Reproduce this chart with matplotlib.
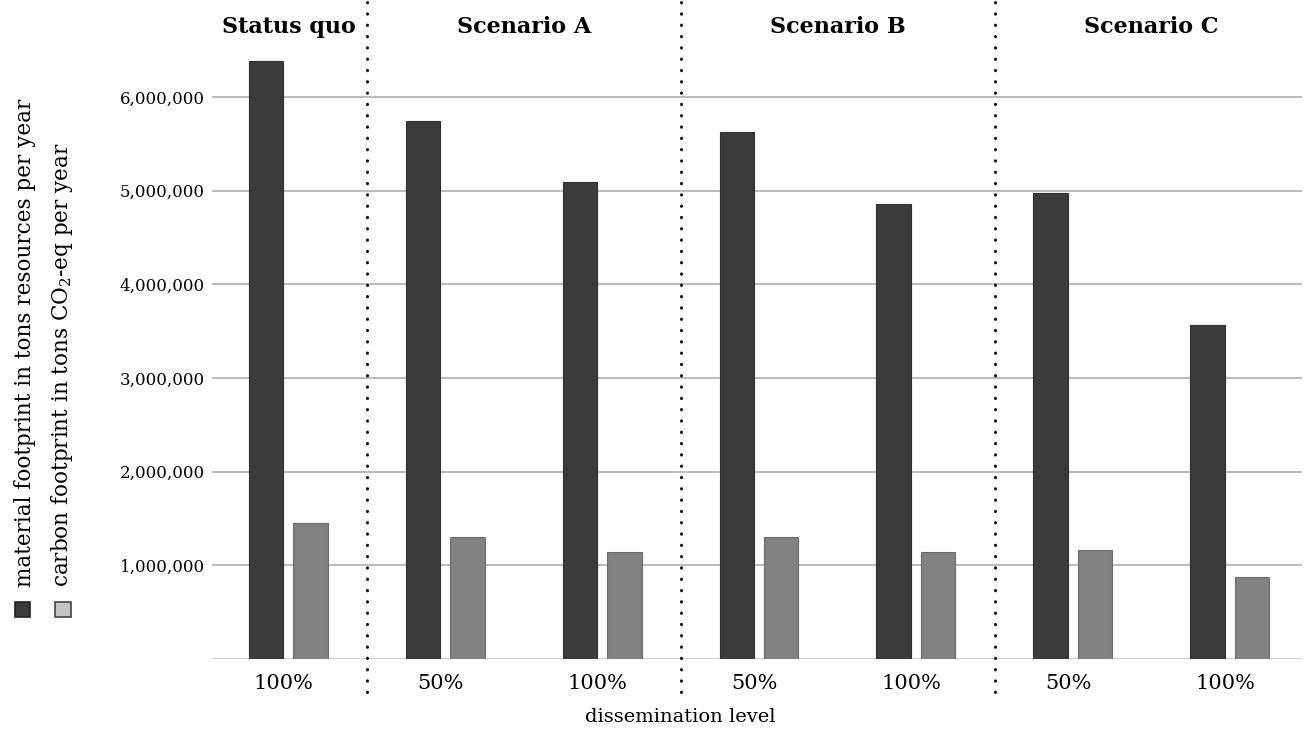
import matplotlib
matplotlib.use("Agg")
import matplotlib.pyplot as plt
import matplotlib.transforms as mtransforms
from matplotlib.patches import Rectangle
from matplotlib.ticker import FuncFormatter
import numpy as np

# ---- data ----
levels = ["100%", "50%", "100%", "50%", "100%", "50%", "100%"]
material = [6380000, 5740000, 5090000, 5630000, 4860000, 4970000, 3570000]
carbon = [1450000, 1300000, 1140000, 1300000, 1140000, 1160000, 875000]
groups = ["Status quo", "Scenario A", "Scenario B", "Scenario C"]
group_centers = [0, 1.5, 3.5, 5.5]
separators = [0.5, 2.5, 4.5]
yticks = [1000000, 2000000, 3000000, 4000000, 5000000, 6000000]
legend_labels = ["material footprint in tons resources per year",
                 "carbon footprint in tons CO$_2$-eq per year"]

plt.rcParams['font.family'] = ['DejaVu Serif']
plt.rcParams['mathtext.fontset'] = 'dejavuserif'
W, H = 1309, 733
fig = plt.figure(figsize=(W / 100, H / 100), dpi=100)
ax_l, ax_r, ax_b, ax_t = 212, 1302, 659, 50
ax = fig.add_axes([ax_l / W, (H - ax_b) / H, (ax_r - ax_l) / W, (ax_b - ax_t) / H])

dark = "#3b3b3b"
light = "#828282"
x = np.arange(len(levels))
bw = 0.22
ax.bar(x - 0.143, material, width=bw, color=dark, edgecolor="#2e2e2e", linewidth=0.8, zorder=3)
ax.bar(x + 0.14, carbon, width=bw, color=light, edgecolor="#6a6a6a", linewidth=0.8, zorder=3)

ax.set_xlim(-0.488, 6.46)
ax.set_ylim(0, 6500000)
ax.set_yticks(yticks)
ax.yaxis.set_major_formatter(FuncFormatter(lambda v, p: f"{int(v):,}"))
ax.set_xticks(x - 0.03)
ax.set_xticklabels(levels, fontsize=15)
ax.tick_params(axis='y', length=0, labelsize=12, pad=5)
ax.tick_params(axis='x', length=0, pad=11)
for s in ax.spines.values():
    s.set_visible(False)
ax.yaxis.grid(True, color="#bdbdbd", linewidth=1.5, zorder=0)
ax.axhline(0, color="#bdbdbd", linewidth=1.8, zorder=2)
fig.text(680 / W, (H - 717) / H, "dissemination level", ha='center', va='center', fontsize=14)

# separators
trans = mtransforms.blended_transform_factory(ax.transData, ax.transAxes)
for s in separators:
    ax.plot([s, s], [-0.055, 1.08], transform=trans, clip_on=False, color="#111111",
            linewidth=2.2, linestyle=(0, (0.1, 3.6)), dash_capstyle='round', zorder=4)

# group titles
for g, c in zip(groups, group_centers):
    ax.text(c, 1.038, g, transform=trans, ha='center', va='center',
            fontsize=16, fontweight='bold')

# rotated legend
sq = 15
for i, (lab, col, ec, cx, tx) in enumerate(zip(legend_labels, [dark, "#c4c4c4"], ["#222222", "#444444"],
                                              [22, 63], [25, 62])):
    fig.patches.append(Rectangle(((cx - sq / 2) / W, (H - 617) / H), sq / W, sq / H,
                                 transform=fig.transFigure, facecolor=col, edgecolor=ec, linewidth=1.2))
    fig.text(tx / W, (H - 587) / H, lab, rotation=90, ha='center', va='bottom', fontsize=15.5)

fig.savefig("out.png", dpi=100)
